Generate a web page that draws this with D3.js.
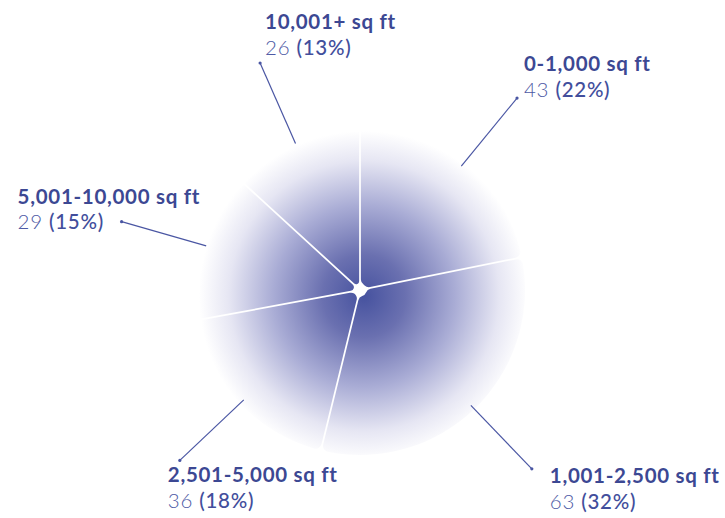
<!DOCTYPE html>
<html>
<head>
<meta charset="utf-8">
<script src="https://cdn.jsdelivr.net/npm/d3@7"></script>
<style>
  html, body { margin: 0; padding: 0; background: #ffffff; }
  svg { display: block; }
  text { font-family: Lato, "Open Sans", sans-serif; }
</style>
</head>
<body>
<svg id="chart" width="725" height="518"></svg>
<script>
// ---- data ----
const categories = ["0-1,000 sq ft", "1,001-2,500 sq ft", "2,501-5,000 sq ft", "5,001-10,000 sq ft", "10,001+ sq ft"];
const counts = [43, 63, 36, 29, 26];

// ---- layout (label text offsets relative to leader end) ----
const labelOffsets = [
  { dx: 7,    dy: -27 },   // 0-1,000: text above-right
  { dx: 18,   dy: 14 },    // 1,001-2,500: text below-right
  { dx: -12,  dy: 22 },    // 2,501-5,000: text below-left
  { dx: -104, dy: -18 },   // 5,001-10,000: text left
  { dx: 5,    dy: -34 }    // 10,001+: text above
];

const width = 725, height = 518;
const cx = 360, cy = 290;
const outerR = 165;
const leaderInner = 160, leaderOuter = 248;
const lineGap = 25.7;

const svg = d3.select("#chart");
const defs = svg.append("defs");
const grad = defs.append("radialGradient")
  .attr("id", "pieGrad")
  .attr("gradientUnits", "userSpaceOnUse")
  .attr("cx", 4).attr("cy", 6).attr("r", outerR)
  .attr("fx", 4).attr("fy", 6);
grad.append("stop").attr("offset", "0%").attr("stop-color", "#46529f");
grad.append("stop").attr("offset", "25%").attr("stop-color", "#6a70b0");
grad.append("stop").attr("offset", "55%").attr("stop-color", "#a9acd5");
grad.append("stop").attr("offset", "82%").attr("stop-color", "#e6e6f3");
grad.append("stop").attr("offset", "100%").attr("stop-color", "#ffffff");

const total = d3.sum(counts);
const data = categories.map((c, i) => ({ cat: c, value: counts[i], i }));

const pie = d3.pie().value(d => d.value).sort(null);
const arcs = pie(data);

const arc = d3.arc()
  .innerRadius(6.5)
  .outerRadius(outerR)
  .padAngle(0.0105)
  .cornerRadius(6);

const g = svg.append("g").attr("transform", `translate(${cx},${cy})`);

g.selectAll("path.slice")
  .data(arcs)
  .join("path")
  .attr("class", "slice")
  .attr("d", arc)
  .attr("fill", "url(#pieGrad)");

// leaders
const leaderColor = "#4a56a3";
function polar(r, a) { return [r * Math.sin(a), -r * Math.cos(a)]; }

arcs.forEach(a => {
  const mid = (a.startAngle + a.endAngle) / 2;
  const p0 = polar(leaderInner, mid);
  const p1 = polar(leaderOuter, mid);
  g.append("line")
    .attr("x1", p0[0]).attr("y1", p0[1])
    .attr("x2", p1[0]).attr("y2", p1[1])
    .attr("stroke", leaderColor).attr("stroke-width", 1.2);
  g.append("circle")
    .attr("cx", p1[0]).attr("cy", p1[1]).attr("r", 1.6)
    .attr("fill", leaderColor);

  const off = labelOffsets[a.data.i];
  const tx = p1[0] + off.dx;
  const ty = p1[1] + off.dy;
  const pct = Math.round(a.data.value / total * 100);

  g.append("text")
    .attr("x", tx).attr("y", ty)
    .attr("font-size", 20.5)
    .attr("letter-spacing", 0.7)
    .attr("font-weight", 700)
    .attr("fill", "#3c4893")
    .text(a.data.cat);

  const t2 = g.append("text")
    .attr("x", tx).attr("y", ty + lineGap)
    .attr("font-size", 20.5)
    .attr("letter-spacing", 0.7);
  t2.append("tspan").attr("font-weight", 300).attr("fill", "#4e5aa5").text(a.data.value + " ");
  t2.append("tspan").attr("font-weight", 500).attr("fill", "#424e9c").text(`(${pct}%)`);
});
</script>
</body>
</html>
